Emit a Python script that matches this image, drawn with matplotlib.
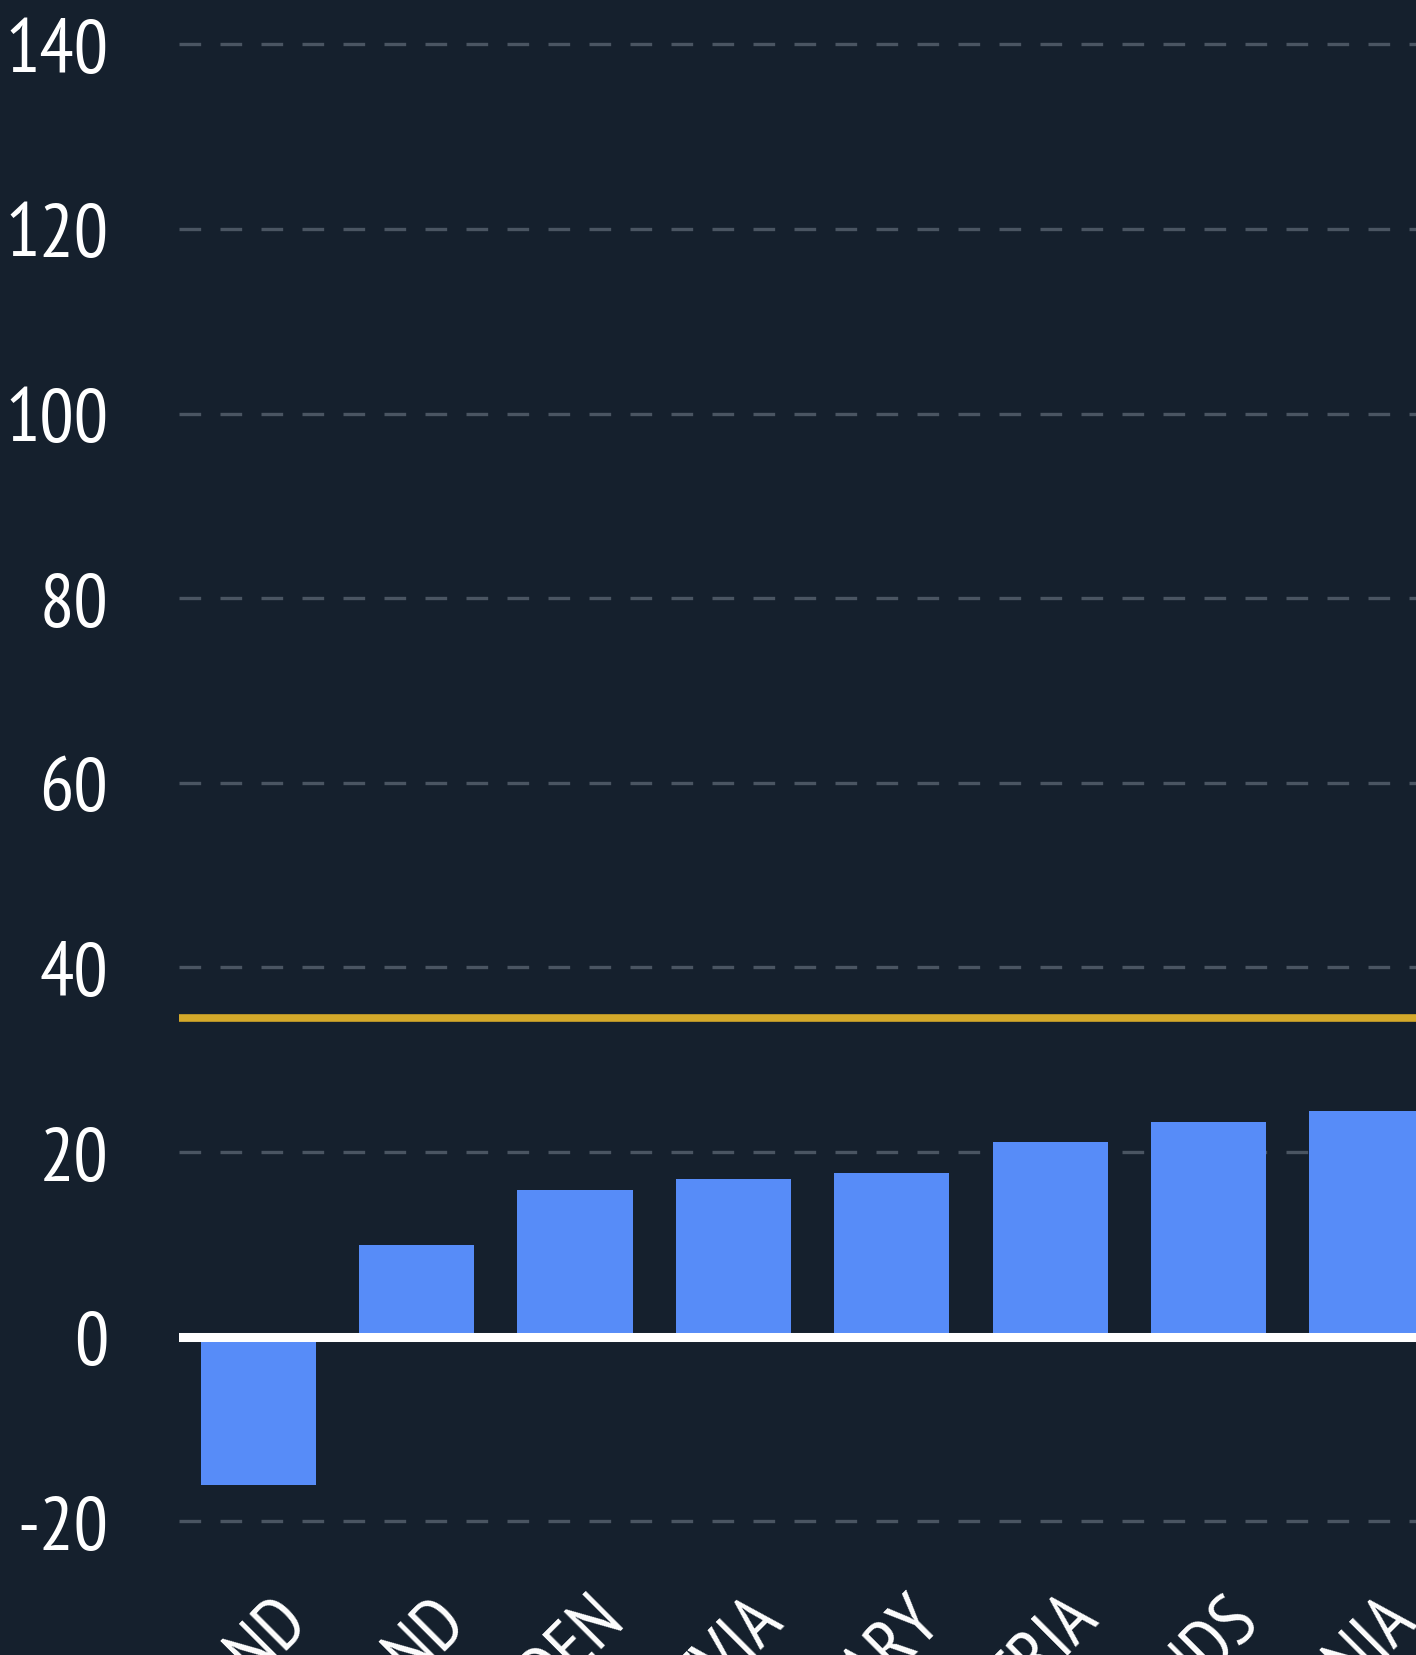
import numpy as np
import matplotlib.pyplot as plt
from matplotlib.transforms import ScaledTranslation

# data (only the visible part of the chart)
countries = ["FINLAND", "IRELAND", "SWEDEN", "LATVIA", "HUNGARY",
             "AUSTRIA", "NETHERLANDS", "ESTONIA"]
values = [-16.1, 9.9, 15.9, 17.1, 17.7, 21.1, 23.3, 24.5]
reference_level = 34.5
yticks = [-20, 0, 20, 40, 60, 80, 100, 120, 140]

bg = "#15202d"
bar_color = "#578cf8"
gold = "#d4a92a"
grid_color = "#4a5562"

plt.rcParams['font.family'] = ['PT Sans Narrow', 'Fira Sans Condensed',
                               'Roboto Condensed', 'DejaVu Sans']

fig = plt.figure(figsize=(14.16, 16.56), dpi=100, facecolor=bg)
ax = fig.add_axes([0.1264, 0.0472, 0.8736, 0.9528])
ax.set_facecolor(bg)

x = np.arange(len(countries))
ax.bar(x, values, width=0.727, color=bar_color, zorder=2)

ax.axhline(0, color="white", lw=6.5, zorder=3)
ax.axhline(reference_level, color=gold, lw=5.5, zorder=3)

ax.set_xlim(-0.5, 7.309)
ax.set_ylim(-26, 144.9)

ax.set_yticks(yticks)
ax.set_yticklabels([str(t) for t in yticks])
ax.yaxis.grid(True, color=grid_color, lw=2.4, linestyle=(0, (6.5, 5.8)))
ax.set_axisbelow(True)

ax.set_xticks(x)
ax.set_xticklabels(countries, rotation=45, ha="right", va="top",
                   rotation_mode="anchor")

ax.tick_params(axis="y", length=0, pad=51, labelsize=55, colors="white")
ax.tick_params(axis="x", length=0, pad=7, labelsize=53, colors="white")

# nudge the rotated country names a little to the right
shift = ScaledTranslation(0.14, 0.02, fig.dpi_scale_trans)
for lbl in ax.get_xticklabels():
    lbl.set_transform(lbl.get_transform() + shift)

for s in ax.spines.values():
    s.set_visible(False)

fig.savefig("out.png", dpi=100, facecolor=bg)
